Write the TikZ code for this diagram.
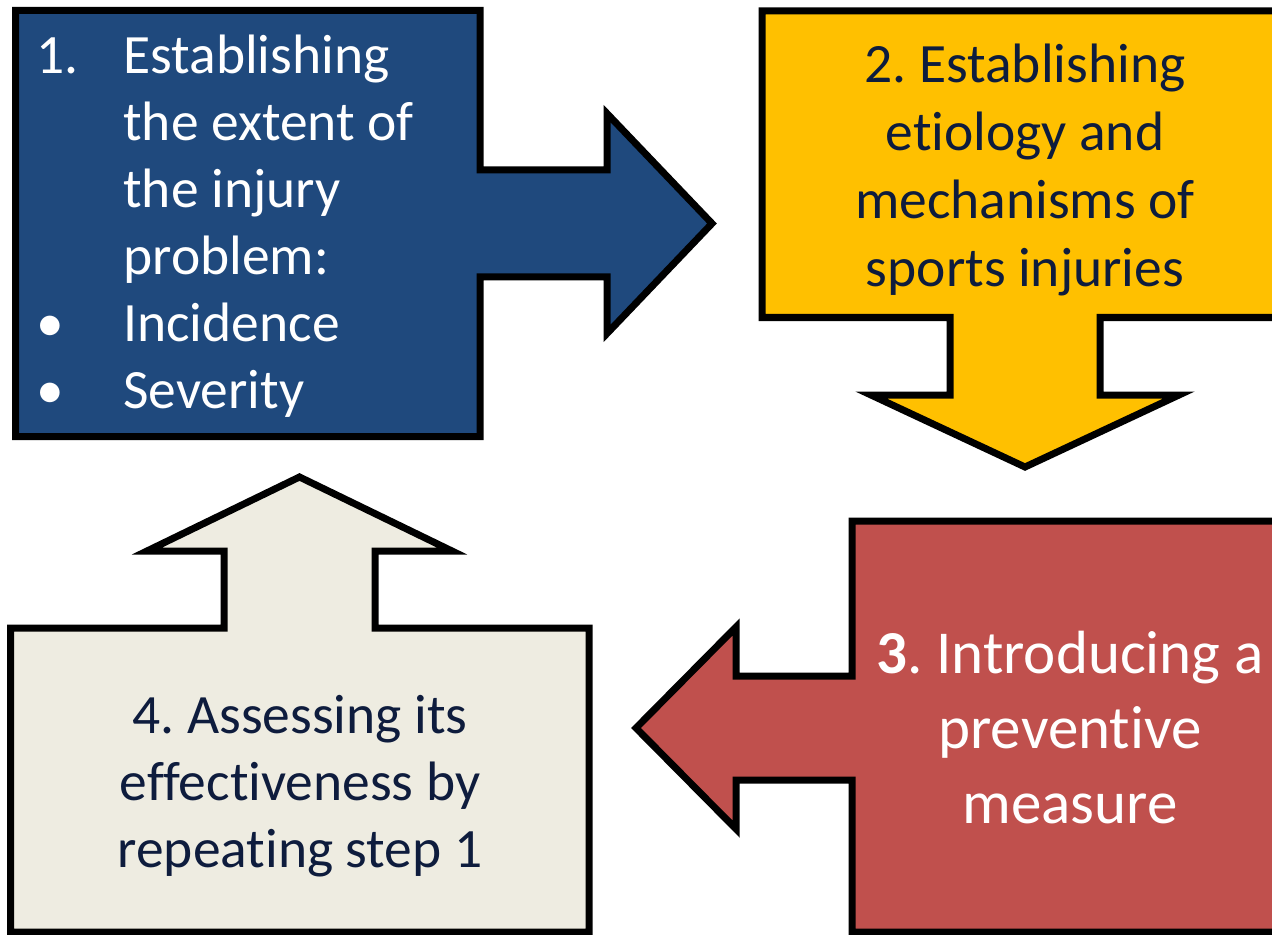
\documentclass[tikz,border=0pt]{standalone}
\usepackage{fontspec}
\setmainfont{Carlito}[Ligatures=NoCommon]
\definecolor{stepblue}{HTML}{1F497D}
\definecolor{stepgold}{HTML}{FFC000}
\definecolor{stepred}{HTML}{C0504D}
\definecolor{stepsand}{HTML}{EEECE1}
\definecolor{stepink}{HTML}{0E1C3D}
\tikzset{
  callout/.style={draw=black, line width=3.5pt, line join=miter},
  steptext/.style={inner sep=0pt, anchor=base, font=\fontsize{27.75}{33.5}\selectfont},
}
\frenchspacing

\begin{document}
\begin{tikzpicture}[x=0.5pt,y=-0.5pt]
\useasboundingbox (0,0) rectangle (1272,935);
\clip (0,0) rectangle (1272,935);
% step 1, pointing right
\draw[callout, fill=stepblue] (15.5,10.5) -- (480,10.5) -- (480,170) -- (607,170)
  -- (607,113.5) -- (712,223.5) -- (607,333.5) -- (607,277) -- (480,277)
  -- (480,436.5) -- (15.5,436.5) -- cycle;
% step 2, pointing down
\draw[callout, fill=stepgold] (762,11) -- (1288,11) -- (1288,317.5) -- (1100,317.5)
  -- (1100,395) -- (1179,395) -- (1025,467) -- (871,395) -- (950,395)
  -- (950,317.5) -- (762,317.5) -- cycle;
% step 3, pointing left
\draw[callout, fill=stepred] (1288,521) -- (852,521) -- (852,676) -- (736,676)
  -- (736,627) -- (636,728) -- (736,829) -- (736,780) -- (852,780)
  -- (852,932) -- (1288,932) -- cycle;
% step 4, pointing up
\draw[callout, fill=stepsand] (10.5,628) -- (224,628) -- (224,551) -- (147,551)
  -- (299.5,477) -- (452,551) -- (375,551) -- (375,628) -- (589,628)
  -- (589,932) -- (10.5,932) -- cycle;

\node[steptext, anchor=base west, text=white] (t1) at (36,74)
  {\begin{tabular}[t]{@{}p{43.5pt}@{}l@{}}
   1. & Establishing\\ & the extent of\\ & the injury\\ & problem:\\
   \textbullet & Incidence\\ \textbullet & Severity
   \end{tabular}};
\node[steptext, text=stepink, font=\fontsize{27.75}{34}\selectfont] (t2) at (1025,83)
  {\begin{tabular}[t]{@{}c@{}}
   2. Establishing\\ etiology and\\ mechanisms of\\ sports injuries
   \end{tabular}};
\node[steptext, text=white, font=\fontsize{30.5}{37.5}\selectfont] (t3) at (1070,673)
  {\begin{tabular}[t]{@{}c@{}}
   \textbf{3}. Introducing a\\ preventive\\ measure
   \end{tabular}};
\node[steptext, text=stepink] (t4) at (300,733)
  {\begin{tabular}[t]{@{}c@{}}
   4. Assessing its\\ effectiveness by\\ repeating step 1
   \end{tabular}};
\end{tikzpicture}
\end{document}
